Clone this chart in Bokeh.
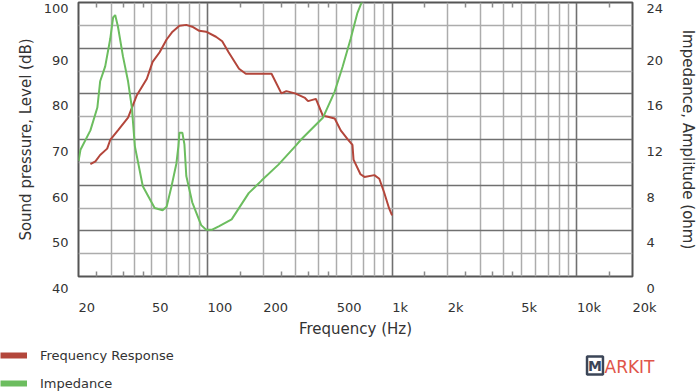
from bokeh.plotting import figure
from bokeh.models import (Range1d, LinearAxis, LogAxis, FixedTicker, Label, Legend,
                          LegendItem, CustomJSTickFormatter)
from bokeh.layouts import column
from bokeh.embed import file_html
from bokeh.resources import INLINE

# ---------------- data ----------------
fr_freq = [23.2, 24.7, 26.2, 28.6, 29.7, 32.7, 37.1, 41.4, 46.9, 50.4, 55.0, 60.0, 64.6,
           70.4, 76.7, 82.6, 90.1, 98.2, 111, 120, 130, 148, 161, 222, 251, 267, 298,
           337, 350, 386, 421, 448, 488, 526, 573, 609, 617, 673, 707, 800, 851, 904,
           962, 998]
fr_db = [64.6, 65.2, 66.6, 68.0, 69.9, 72.0, 74.8, 79.7, 83.3, 87.0, 89.1, 91.9, 93.6,
         94.9, 95.1, 94.7, 93.8, 93.6, 92.5, 91.5, 89.1, 85.5, 84.4, 84.4, 80.1, 80.6,
         80.1, 79.1, 78.4, 78.9, 75.2, 75.0, 74.6, 72.0, 70.1, 68.8, 65.6, 62.4, 61.8,
         62.2, 61.4, 58.4, 54.9, 53.4]

imp_freq = [20.0, 20.5, 23.2, 25.3, 26.2, 27.9, 29.7, 30.8, 31.6, 32.7, 34.8, 37.1, 38.9,
            40.4, 44.6, 51.7, 57.1, 60.0, 63.8, 67.8, 69.5, 70.4, 73.0, 74.9, 76.7, 82.6,
            92.3, 98.2, 106, 115, 135, 167, 196, 242, 298, 321, 421, 488, 539, 595, 648,
            690]
imp_ohm = [10.1, 11.1, 12.8, 14.8, 17.1, 18.4, 20.8, 22.7, 22.9, 21.9, 19.3, 17.1, 14.8,
           11.4, 7.9, 6.0, 5.8, 6.1, 7.9, 9.9, 11.4, 12.6, 12.6, 11.6, 8.8, 6.5, 4.5, 4.1,
           4.1, 4.4, 5.0, 7.3, 8.4, 9.8, 11.4, 12.0, 13.9, 16.2, 18.4, 20.8, 23.1, 24.2]

x_tick_values = [20, 50, 100, 200, 500, 1000, 2000, 5000, 10000, 20000]
x_tick_labels = ["20", "50", "100", "200", "500", "1k", "2k", "5k", "10k", "20k"]
db_tick_values = [40, 50, 60, 70, 80, 90, 100]
db_tick_labels = ["40", "50", "60", "70", "80", "90", "100"]
ohm_tick_values = [0, 4, 8, 12, 16, 20, 24]
ohm_tick_labels = ["0", "4", "8", "12", "16", "20", "24"]
x_small_marks = [25, 35, 45, 150, 250, 350, 450, 1500, 2500, 3500, 4500, 15000]
x_grid_major = [100, 1000, 10000]
x_grid_minor = [30, 40, 50, 60, 70, 80, 90, 200, 300, 400, 500, 600, 700, 800, 900,
                2000, 3000, 4000, 5000, 6000, 7000, 8000, 9000]
db_grid_major = [50, 60, 70, 80, 90]
db_grid_minor = [45, 55, 65, 75, 85, 95]

series_names = ["Frequency Response", "Impedance"]

# ---------------- style ----------------
RED = "#b3463b"
GREEN = "#6cbd5f"
FONT = "DejaVu Sans"
TXT = "#333333"
GRID_DARK = "#707070"
GRID_LIGHT = "#acacac"


def dropped_labels(values, labels):
    # the reference prints each value just below its grid line; the top one
    # already sits against the page edge
    top = max(values)
    return {v: (t if v == top else "\n" + t) for v, t in zip(values, labels)}


p = figure(width=700, height=340, x_axis_type="log",
           x_range=Range1d(20, 20000), y_range=Range1d(40, 100),
           output_backend="svg", toolbar_location=None,
           min_border_left=78, min_border_right=62, min_border_top=2, min_border_bottom=57)
p.extra_y_ranges = {"imp": Range1d(0, 24)}
p.background_fill_color = "white"
p.border_fill_color = "white"
p.outline_line_color = "#555555"
p.outline_line_width = 2

# grids
p.xgrid.ticker = FixedTicker(ticks=x_grid_major, minor_ticks=x_grid_minor)
p.xgrid.grid_line_color = GRID_DARK
p.xgrid.grid_line_width = 1.6
p.xgrid.minor_grid_line_color = GRID_LIGHT
p.xgrid.minor_grid_line_width = 1.5
p.ygrid.ticker = FixedTicker(ticks=db_grid_major, minor_ticks=db_grid_minor)
p.ygrid.grid_line_color = GRID_DARK
p.ygrid.grid_line_width = 1.6
p.ygrid.minor_grid_line_color = GRID_LIGHT
p.ygrid.minor_grid_line_width = 1.5


def style_axis(ax, size="13px"):
    ax.major_label_text_font = FONT
    ax.major_label_text_font_size = size
    ax.major_label_text_color = TXT
    ax.axis_line_color = None
    ax.major_tick_in = 0
    ax.major_tick_out = 0
    ax.minor_tick_in = 0
    ax.minor_tick_out = 0
    ax.axis_label_text_font = FONT
    ax.axis_label_text_font_size = "15px"
    ax.axis_label_text_font_style = "normal"
    ax.axis_label_text_color = TXT


# bottom axis: labels start at their tick (left aligned), small inner marks
xa = p.xaxis[0]
xa.ticker = FixedTicker(ticks=x_tick_values, minor_ticks=x_small_marks)
style_axis(xa)
xa.major_label_overrides = dict(zip(x_tick_values, x_tick_labels))
xa.major_label_orientation = -0.0001
xa.major_label_standoff = 31
xa.minor_tick_in = 5
xa.minor_tick_line_color = "#8a8a8a"
xa.minor_tick_line_width = 1.5
xa.axis_label = "Frequency (Hz)"
xa.axis_label_standoff = -6

# top axis: only the small inner marks
ta = LogAxis(ticker=FixedTicker(ticks=[], minor_ticks=x_small_marks),
             formatter=CustomJSTickFormatter(code="return ''"))
style_axis(ta, size="0px")
ta.major_label_standoff = 0
ta.minor_tick_in = 5
ta.minor_tick_line_color = "#8a8a8a"
ta.minor_tick_line_width = 1.5
p.add_layout(ta, "above")

# left axis
ya = p.yaxis[0]
ya.ticker = FixedTicker(ticks=db_tick_values)
ya.major_label_overrides = dropped_labels(db_tick_values, db_tick_labels)
style_axis(ya)
ya.major_label_text_line_height = 1.6
ya.major_label_standoff = 10
ya.axis_label = "Sound pressure, Level (dB)"
ya.axis_label_standoff = 6

# right axis
ra = LinearAxis(y_range_name="imp", ticker=FixedTicker(ticks=ohm_tick_values))
ra.major_label_overrides = dropped_labels(ohm_tick_values, ohm_tick_labels)
style_axis(ra)
ra.major_label_text_line_height = 1.6
ra.major_label_standoff = 14
ra.axis_label = "Impedance, Amplitude (ohm)"
ra.axis_label_standoff = 13
p.add_layout(ra, "right")

# curves
p.line(fr_freq, fr_db, line_color=RED, line_width=2)
p.line(imp_freq, imp_ohm, line_color=GREEN, line_width=2, y_range_name="imp")

# ---------------- legend + logo strip ----------------
q = figure(width=700, height=52, x_range=Range1d(0, 700), y_range=Range1d(0, 52),
           output_backend="svg", toolbar_location=None, min_border=0,
           x_axis_location=None, y_axis_location=None)
for fig in (p, q):
    if "frame_align" in fig.properties():
        fig.frame_align = False
q.grid.visible = False
q.outline_line_color = None
q.background_fill_color = "white"
q.border_fill_color = "white"
nan = float("nan")
r1 = q.line(x=[nan], y=[nan], line_color=RED, line_width=6)
r2 = q.line(x=[nan], y=[nan], line_color=GREEN, line_width=6)
legend = Legend(items=[LegendItem(label=series_names[0], renderers=[r1]),
                       LegendItem(label=series_names[1], renderers=[r2])],
                location=(0, 1), orientation="vertical", glyph_width=27, glyph_height=16,
                label_height=16, spacing=12, padding=0, margin=0, label_standoff=13,
                label_text_font=FONT, label_text_font_size="13px", label_text_color=TXT,
                border_line_color=None, background_fill_alpha=0)
q.add_layout(legend)

q.add_layout(Label(x=594.5, y=27, text="M", text_align="center", text_baseline="middle",
                   text_font=FONT, text_font_size="14px", text_font_style="bold",
                   text_color="#3b4557", border_line_color="#3b4557", border_line_width=2.5,
                   padding=1))
q.add_layout(Label(x=604, y=26, text="ARKIT", text_align="left", text_baseline="middle",
                   text_font=FONT, text_font_size="17px", text_color="#e0554a"))

layout = column(p, q)

open("out.html", "w").write(file_html(layout, INLINE))
